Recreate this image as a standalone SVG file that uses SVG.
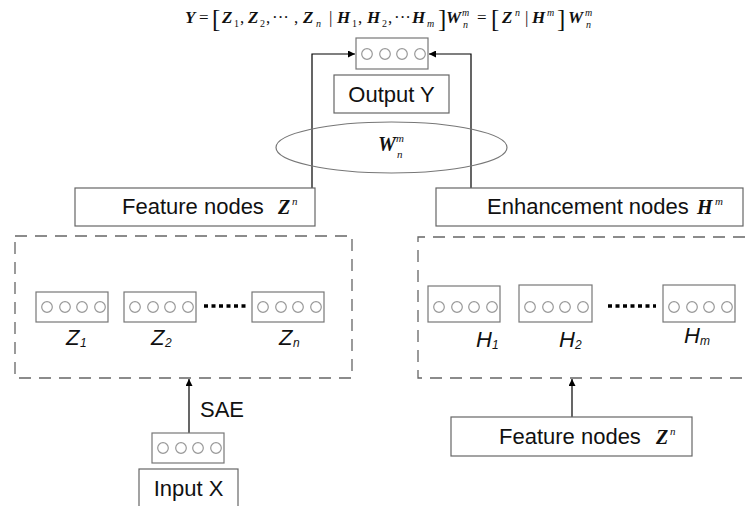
<svg xmlns="http://www.w3.org/2000/svg" width="745" height="506" viewBox="0 0 745 506">
<defs>
<marker id="ah" viewBox="0 0 10 10" refX="10" refY="5" markerWidth="7" markerHeight="7" markerUnits="userSpaceOnUse" orient="auto">
<path d="M0,0 L10,5 L0,10 z" fill="#000"/>
</marker>
<style>
.box{fill:#fff;stroke:#666;stroke-width:1.2}
.vec{fill:#fff;stroke:#777;stroke-width:1.2}
.cir{fill:none;stroke:#999;stroke-width:1.2}
.dash{fill:none;stroke:#666;stroke-width:1.3;stroke-dasharray:12 8}
.lbl{font-family:"Liberation Sans",Arial,sans-serif;font-size:22px;fill:#111}
.math{font-family:"Liberation Serif","Times New Roman",serif;font-weight:bold;font-style:italic;fill:#111}
.mr{font-family:"Liberation Serif","Times New Roman",serif;font-style:italic;fill:#111}
.reg{font-family:"Liberation Serif","Times New Roman",serif;fill:#111}
.it{font-family:"Liberation Sans",Arial,sans-serif;font-style:italic;fill:#111}
.dots{stroke:#000;stroke-width:3.5;stroke-dasharray:4 3.5}
.conn{fill:none;stroke:#000;stroke-width:1.2}
</style>
</defs>
<rect width="745" height="506" fill="#fff"/>

<g id="formula">
<text class="math" x="185" y="23" font-size="17">Y</text>
<text class="reg" x="199" y="23" font-size="17">=</text>
<text class="reg" x="212" y="27" font-size="25">[</text>
<text class="math" x="222" y="23" font-size="17">Z</text><text class="reg" x="234" y="27" font-size="10">1</text><text class="reg" x="240" y="23" font-size="17">,</text>
<text class="math" x="248" y="23" font-size="17">Z</text><text class="reg" x="260" y="27" font-size="10">2</text><text class="reg" x="266" y="23" font-size="17">,</text>
<text class="reg" x="272" y="23" font-size="17">···</text><text class="reg" x="294" y="23" font-size="17">,</text>
<text class="math" x="303" y="23" font-size="17">Z</text><text class="mr" x="316" y="27" font-size="10">n</text>
<text class="reg" x="329" y="23" font-size="17">|</text>
<text class="math" x="337" y="23" font-size="17">H</text><text class="reg" x="352" y="27" font-size="10">1</text><text class="reg" x="358" y="23" font-size="17">,</text>
<text class="math" x="367" y="23" font-size="17">H</text><text class="reg" x="382" y="27" font-size="10">2</text><text class="reg" x="388" y="23" font-size="17">,</text>
<text class="reg" x="394" y="23" font-size="17">···</text>
<text class="math" x="412" y="23" font-size="17">H</text><text class="mr" x="427" y="27" font-size="10">m</text>
<text class="reg" x="438" y="27" font-size="25">]</text>
<text class="math" x="446" y="23" font-size="17">W</text><text class="mr" x="462" y="16" font-size="10">m</text><text class="mr" x="463" y="28" font-size="10">n</text>
<text class="reg" x="477" y="23" font-size="17">=</text>
<text class="reg" x="491" y="27" font-size="25">[</text>
<text class="math" x="502" y="23" font-size="17">Z</text><text class="mr" x="515" y="16" font-size="10">n</text>
<text class="reg" x="525" y="23" font-size="17">|</text>
<text class="math" x="532" y="23" font-size="17">H</text><text class="mr" x="547" y="16" font-size="10">m</text>
<text class="reg" x="557" y="27" font-size="25">]</text>
<text class="math" x="568" y="23" font-size="17">W</text><text class="mr" x="585" y="16" font-size="10">m</text><text class="mr" x="586" y="28" font-size="10">n</text>
</g>

<g id="connectors">
<polyline class="conn" points="312,188 312,54 355,54" marker-end="url(#ah)"/>
<polyline class="conn" points="471,188 471,54 429,54" marker-end="url(#ah)"/>
<line class="conn" x1="189" y1="433" x2="189" y2="379" stroke="#333" marker-end="url(#ah)"/>
<line class="conn" x1="572" y1="417" x2="572" y2="379" marker-end="url(#ah)"/>
</g>

<g id="output-vector">
<rect class="vec" x="356" y="38" width="72" height="31"/>
<circle class="cir" cx="367" cy="54" r="5.3"/><circle class="cir" cx="385" cy="54" r="5.3"/><circle class="cir" cx="402" cy="54" r="5.3"/><circle class="cir" cx="420" cy="54" r="5.3"/>
</g>

<g id="output-y">
<rect class="box" x="334" y="75" width="115" height="38"/>
<text class="lbl" x="391.5" y="102" text-anchor="middle">Output Y</text>
</g>

<g id="weights">
<ellipse cx="391.5" cy="147.5" rx="115.5" ry="25.5" fill="none" stroke="#777" stroke-width="1.2"/>
<text class="math" x="378" y="151" font-size="20">W</text><text class="mr" x="396" y="142" font-size="11">m</text><text class="mr" x="397" y="158" font-size="11">n</text>
</g>

<g id="feature-nodes-top">
<rect class="box" x="75" y="188" width="240" height="38"/>
<text class="lbl" x="122" y="214">Feature nodes</text>
<text class="math" x="278" y="214" font-size="20">Z</text><text class="mr" x="292" y="205" font-size="11">n</text>
</g>

<g id="enhancement-nodes">
<rect class="box" x="436" y="188" width="307" height="38"/>
<text class="lbl" x="487" y="214">Enhancement nodes</text>
<text class="math" x="697" y="214" font-size="20">H</text><text class="mr" x="715" y="205" font-size="11">m</text>
</g>

<g id="feature-group">
<rect class="dash" x="15" y="236" width="337" height="142"/>
</g>

<g id="z1">
<rect class="vec" x="36" y="292" width="72" height="30"/>
<circle class="cir" cx="47" cy="307" r="5.3"/><circle class="cir" cx="65" cy="307" r="5.3"/><circle class="cir" cx="82" cy="307" r="5.3"/><circle class="cir" cx="100" cy="307" r="5.3"/>
<text class="it" x="66" y="345" font-size="22">Z</text><text class="it" x="80" y="347" font-size="12">1</text>
</g>
<g id="z2">
<rect class="vec" x="124" y="292" width="72" height="30"/>
<circle class="cir" cx="135" cy="307" r="5.3"/><circle class="cir" cx="153" cy="307" r="5.3"/><circle class="cir" cx="170" cy="307" r="5.3"/><circle class="cir" cx="188" cy="307" r="5.3"/>
<text class="it" x="151" y="345" font-size="22">Z</text><text class="it" x="165" y="347" font-size="12">2</text>
</g>
<line class="dots" x1="204" y1="306" x2="249" y2="306"/>
<g id="zn">
<rect class="vec" x="252" y="292" width="72" height="30"/>
<circle class="cir" cx="263" cy="307" r="5.3"/><circle class="cir" cx="281" cy="307" r="5.3"/><circle class="cir" cx="298" cy="307" r="5.3"/><circle class="cir" cx="316" cy="307" r="5.3"/>
<text class="it" x="279" y="345" font-size="22">Z</text><text class="it" x="293" y="347" font-size="12">n</text>
</g>

<g id="enhancement-group">
<path class="dash" d="M745,237 H418 V378 H745"/>
</g>

<g id="h1">
<rect class="vec" x="428" y="286" width="72" height="36"/>
<circle class="cir" cx="439" cy="307" r="5.3"/><circle class="cir" cx="457" cy="307" r="5.3"/><circle class="cir" cx="474" cy="307" r="5.3"/><circle class="cir" cx="492" cy="307" r="5.3"/>
<text class="it" x="476" y="347" font-size="22">H</text><text class="it" x="492" y="349" font-size="12">1</text>
</g>
<g id="h2">
<rect class="vec" x="519" y="285" width="73" height="37"/>
<circle class="cir" cx="530" cy="307" r="5.3"/><circle class="cir" cx="548" cy="307" r="5.3"/><circle class="cir" cx="565" cy="307" r="5.3"/><circle class="cir" cx="583" cy="307" r="5.3"/>
<text class="it" x="559" y="347" font-size="22">H</text><text class="it" x="575" y="349" font-size="12">2</text>
</g>
<line class="dots" x1="608" y1="306" x2="656" y2="306"/>
<g id="hm">
<rect class="vec" x="663" y="285" width="72" height="37"/>
<circle class="cir" cx="674" cy="307" r="5.3"/><circle class="cir" cx="692" cy="307" r="5.3"/><circle class="cir" cx="709" cy="307" r="5.3"/><circle class="cir" cx="727" cy="307" r="5.3"/>
<text class="it" x="684" y="343" font-size="22">H</text><text class="it" x="700" y="345" font-size="12">m</text>
</g>

<g id="sae-label">
<text class="lbl" x="200" y="417" font-size="20">SAE</text>
</g>

<g id="input-vector">
<rect class="vec" x="152" y="433" width="72" height="30"/>
<circle class="cir" cx="163" cy="448" r="5.3"/><circle class="cir" cx="181" cy="448" r="5.3"/><circle class="cir" cx="198" cy="448" r="5.3"/><circle class="cir" cx="216" cy="448" r="5.3"/>
</g>

<g id="input-x">
<rect class="box" x="139" y="469" width="99" height="40"/>
<text class="lbl" x="188.5" y="496" text-anchor="middle">Input X</text>
</g>

<g id="feature-nodes-bottom">
<rect class="box" x="451" y="417" width="241" height="39"/>
<text class="lbl" x="499" y="444">Feature nodes</text>
<text class="math" x="656" y="444" font-size="20">Z</text><text class="mr" x="670" y="435" font-size="11">n</text>
</g>
</svg>
